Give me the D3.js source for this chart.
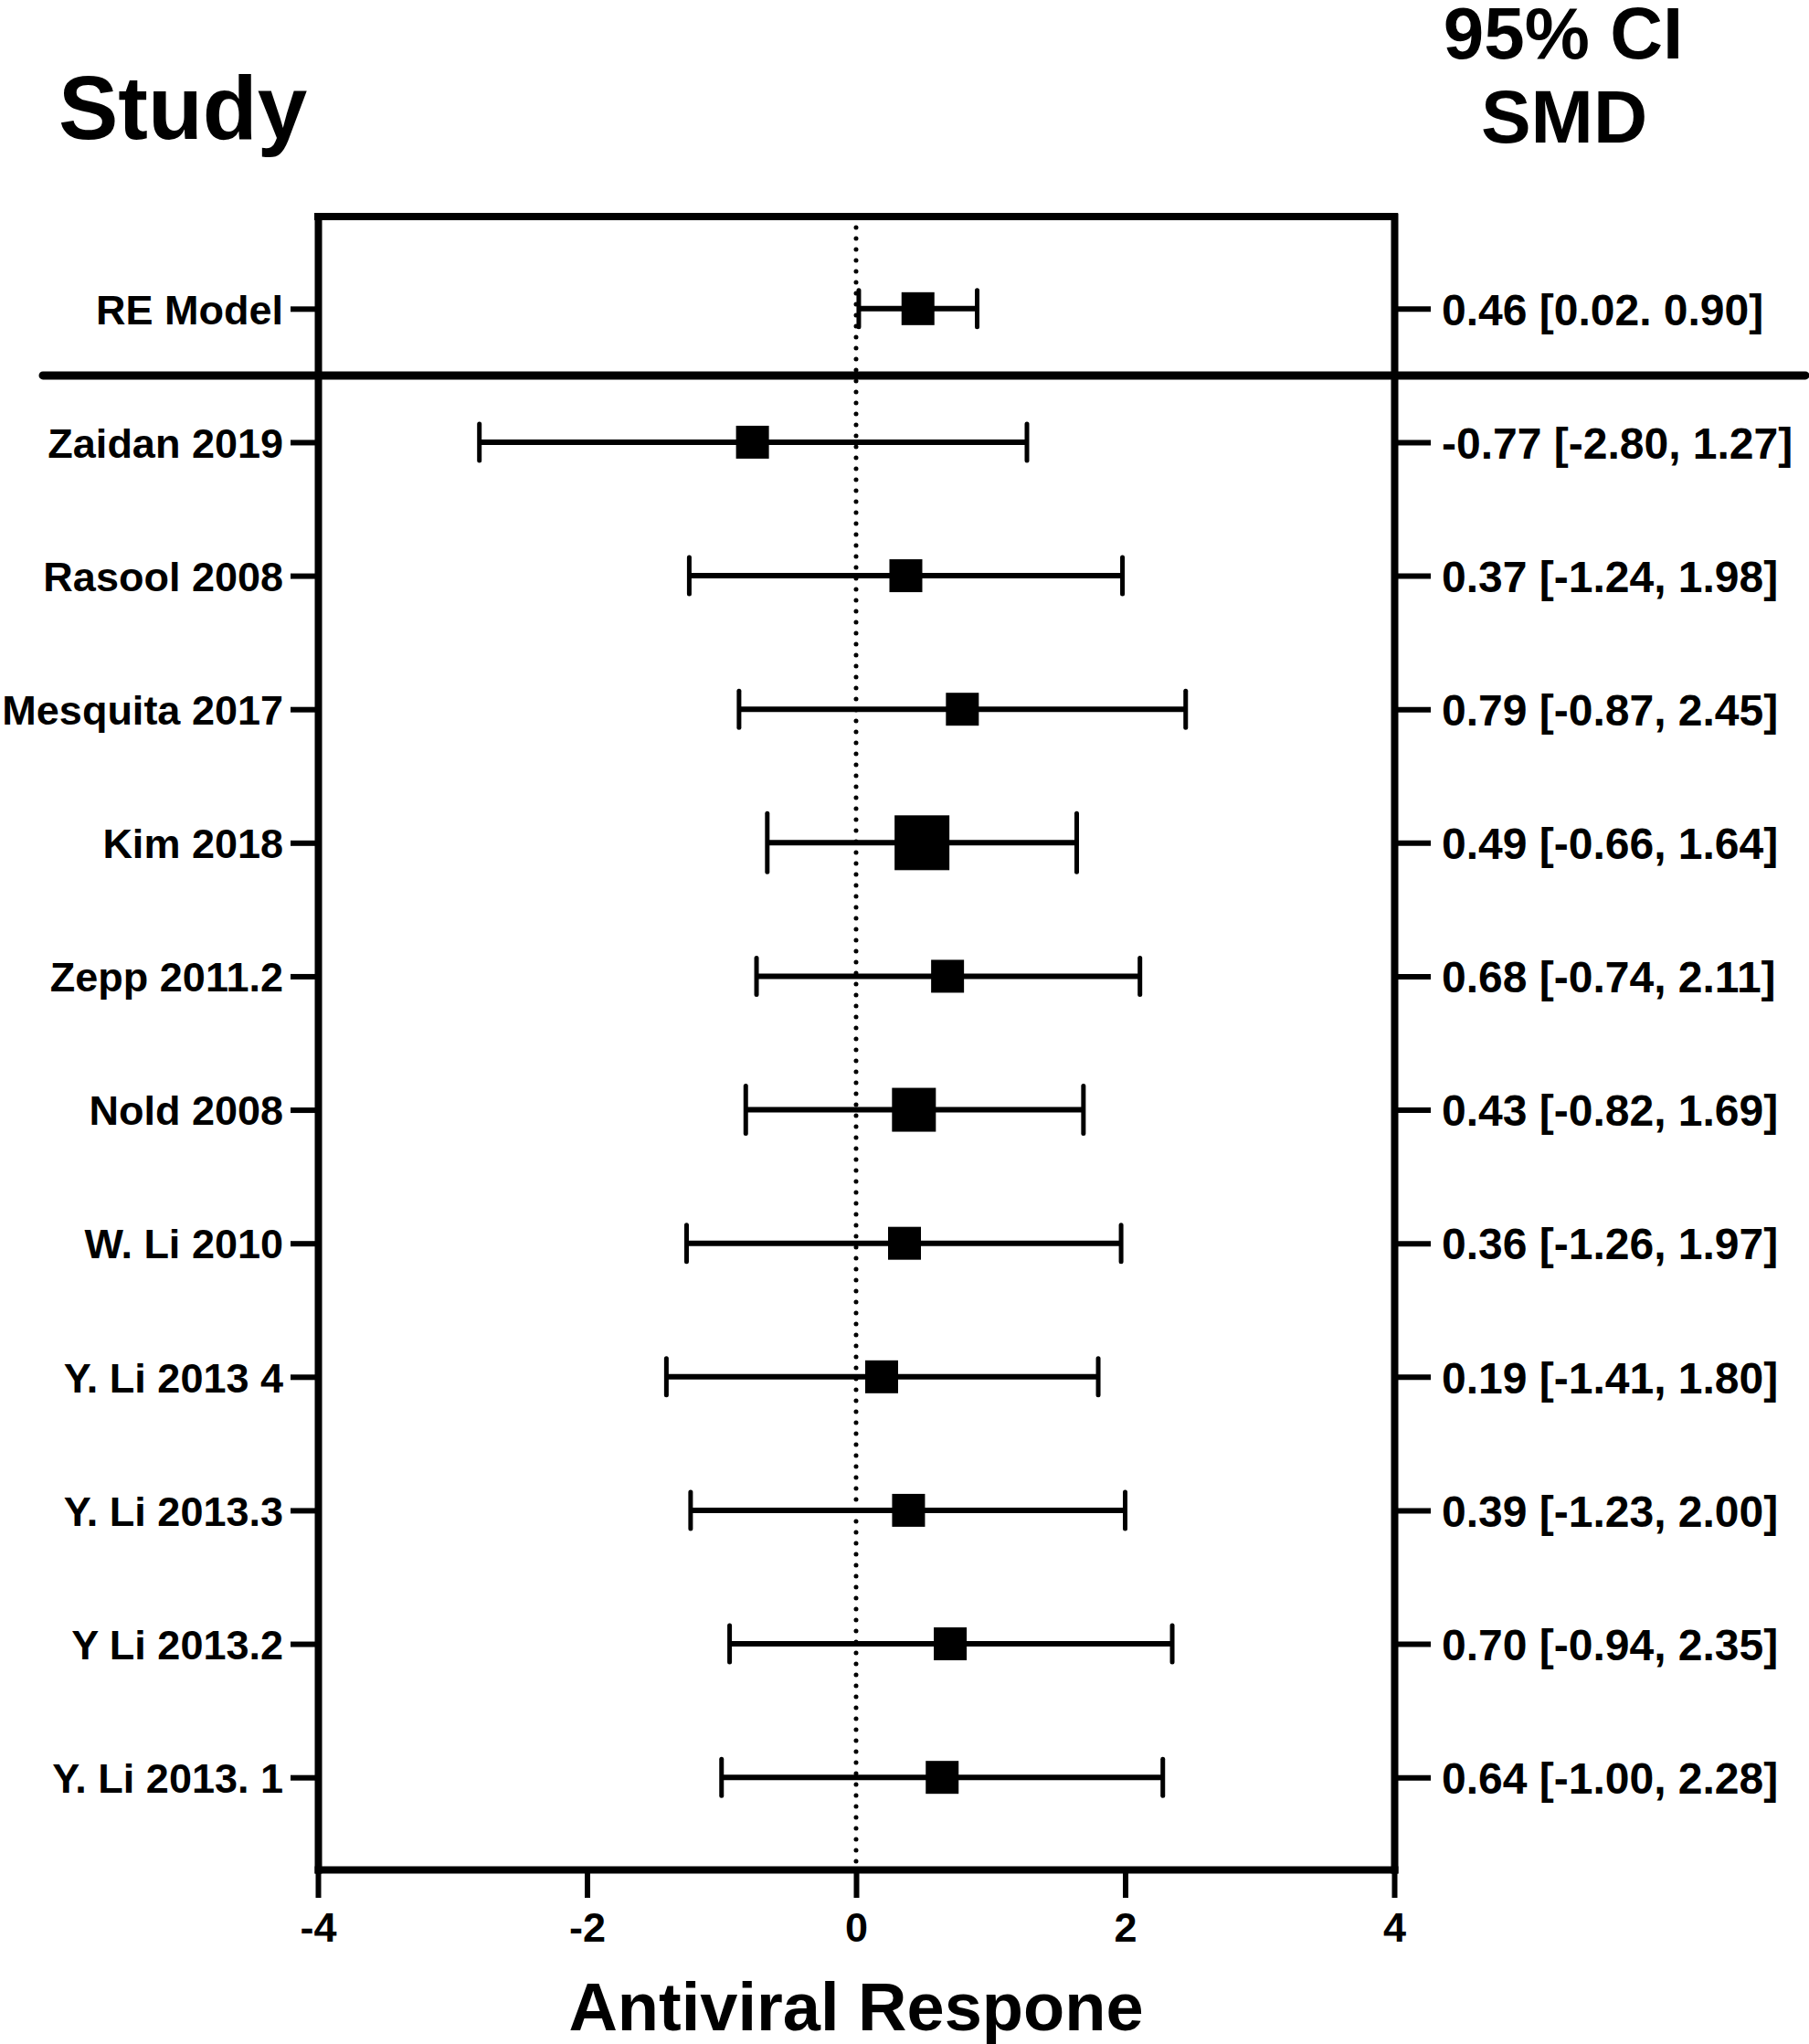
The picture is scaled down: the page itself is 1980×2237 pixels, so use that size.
<!DOCTYPE html>
<html>
<head>
<meta charset="utf-8">
<script src="https://cdn.jsdelivr.net/npm/d3@7"></script>
<style>
  body { margin: 0; background: #fff; }
  svg text { font-family: "Liberation Sans", Arial, Helvetica, sans-serif; font-weight: bold; fill: #000; }
</style>
</head>
<body>
<script>
// forest plot data
var studies = ["RE Model", "Zaidan 2019", "Rasool 2008", "Mesquita 2017", "Kim 2018", "Zepp 2011.2",
               "Nold 2008", "W. Li 2010", "Y. Li 2013 4", "Y. Li 2013.3", "Y Li 2013.2", "Y. Li 2013. 1"];
var smd    = [0.46, -0.77, 0.37, 0.79, 0.49, 0.68, 0.43, 0.36, 0.19, 0.39, 0.70, 0.64];
var lower  = [0.02, -2.80, -1.24, -0.87, -0.66, -0.74, -0.82, -1.26, -1.41, -1.23, -0.94, -1.00];
var upper  = [0.90, 1.27, 1.98, 2.45, 1.64, 2.11, 1.69, 1.97, 1.80, 2.00, 2.35, 2.28];
var weight = [3, 3, 3, 3, 5, 3, 4, 3, 3, 3, 3, 3];
var ciLabels = ["0.46 [0.02. 0.90]", "-0.77 [-2.80, 1.27]", "0.37 [-1.24, 1.98]", "0.79 [-0.87, 2.45]",
                "0.49 [-0.66, 1.64]", "0.68 [-0.74, 2.11]", "0.43 [-0.82, 1.69]", "0.36 [-1.26, 1.97]",
                "0.19 [-1.41, 1.80]", "0.39 [-1.23, 2.00]", "0.70 [-0.94, 2.35]", "0.64 [-1.00, 2.28]"];
var xTicks = [-4, -2, 0, 2, 4];

var W = 1980, H = 2237;
var plotLeft = 348, plotRight = 1526, plotTop = 237, plotBottom = 2046;

var svg = d3.select("body").append("svg")
    .attr("width", W)
    .attr("height", H);

var x = d3.scaleLinear().domain([-4, 4]).range([plotLeft, plotRight]);
var y = d3.scalePoint().domain(studies).range([plotTop, plotBottom]).padding(0.69);
var boxSize = d3.scaleLinear().domain([0, 5]).range([0, 60]);

var rows = studies.map(function(s, i) {
    return {name: s, m: smd[i], lo: lower[i], hi: upper[i], w: weight[i], label: ciLabels[i]};
});

// zero reference line (dotted)
svg.append("line")
    .attr("x1", x(0)).attr("x2", x(0))
    .attr("y1", plotTop).attr("y2", plotBottom)
    .attr("stroke", "#000")
    .attr("stroke-width", 5)
    .attr("stroke-linecap", "round")
    .attr("stroke-dasharray", "0,12");

// top border
svg.append("line")
    .attr("x1", plotLeft).attr("x2", plotRight)
    .attr("y1", plotTop).attr("y2", plotTop)
    .attr("stroke", "#000").attr("stroke-width", 8).attr("stroke-linecap", "square");

// left axis with study names
var yLeft = svg.append("g")
    .attr("transform", "translate(" + plotLeft + ",0)")
    .call(d3.axisLeft(y).tickSize(30).tickSizeOuter(0).tickPadding(8));
yLeft.select(".domain").attr("stroke-width", 8).attr("stroke-linecap", "square");
yLeft.selectAll(".tick line").attr("stroke-width", 6);
yLeft.selectAll(".tick text").style("font-size", "45px").attr("dy", "0.36em");

// right axis with CI labels
var yRight = svg.append("g")
    .attr("transform", "translate(" + plotRight + ",0)")
    .call(d3.axisRight(y).tickSize(40).tickSizeOuter(0).tickPadding(12)
        .tickFormat(function(d, i) { return ciLabels[i]; }));
yRight.select(".domain").attr("stroke-width", 8).attr("stroke-linecap", "square");
yRight.selectAll(".tick line").attr("stroke-width", 6);
yRight.selectAll(".tick text").style("font-size", "48px").attr("dy", "0.36em");

// bottom axis
var xAxis = svg.append("g")
    .attr("transform", "translate(0," + plotBottom + ")")
    .call(d3.axisBottom(x).tickValues(xTicks).tickSize(31).tickSizeOuter(0).tickPadding(16)
        .tickFormat(function(d) { return String(d); }));
xAxis.select(".domain").attr("stroke-width", 8).attr("stroke-linecap", "square");
xAxis.selectAll(".tick line").attr("stroke-width", 6);
xAxis.selectAll(".tick text").style("font-size", "45px");

// separator between summary and studies
var sepY = (y(studies[0]) + y(studies[1])) / 2;
svg.append("line")
    .attr("x1", 47).attr("x2", 1976)
    .attr("y1", sepY).attr("y2", sepY)
    .attr("stroke", "#000").attr("stroke-width", 9).attr("stroke-linecap", "round");

// CI whiskers
var g = svg.append("g");
g.selectAll(".ci").data(rows).enter().append("line")
    .attr("class", "ci")
    .attr("x1", function(d) { return x(d.lo); })
    .attr("x2", function(d) { return x(d.hi); })
    .attr("y1", function(d) { return y(d.name); })
    .attr("y2", function(d) { return y(d.name); })
    .attr("stroke", "#000").attr("stroke-width", 6);

["lo", "hi"].forEach(function(k) {
    g.selectAll(".cap-" + k).data(rows).enter().append("line")
        .attr("class", "cap-" + k)
        .attr("x1", function(d) { return x(d[k]); })
        .attr("x2", function(d) { return x(d[k]); })
        .attr("y1", function(d) { return y(d.name) - boxSize(d.w) / 2 - 2; })
        .attr("y2", function(d) { return y(d.name) + boxSize(d.w) / 2 + 2; })
        .attr("stroke", "#000").attr("stroke-width", 5).attr("stroke-linecap", "round");
});

// effect boxes
g.selectAll(".box").data(rows).enter().append("rect")
    .attr("class", "box")
    .attr("x", function(d) { return x(d.m) - boxSize(d.w) / 2; })
    .attr("y", function(d) { return y(d.name) - boxSize(d.w) / 2; })
    .attr("width", function(d) { return boxSize(d.w); })
    .attr("height", function(d) { return boxSize(d.w); })
    .attr("fill", "#000");

// headers & title
svg.append("text").attr("x", 64).attr("y", 152)
    .style("font-size", "98px").text("Study");
svg.append("text").attr("x", 1711).attr("y", 64).attr("text-anchor", "middle")
    .style("font-size", "80px").text("95% CI");
svg.append("text").attr("x", 1712).attr("y", 156).attr("text-anchor", "middle")
    .style("font-size", "82px").text("SMD");
svg.append("text").attr("x", (plotLeft + plotRight) / 2).attr("y", 2222).attr("text-anchor", "middle")
    .style("font-size", "74px").text("Antiviral Respone");
</script>
</body>
</html>
